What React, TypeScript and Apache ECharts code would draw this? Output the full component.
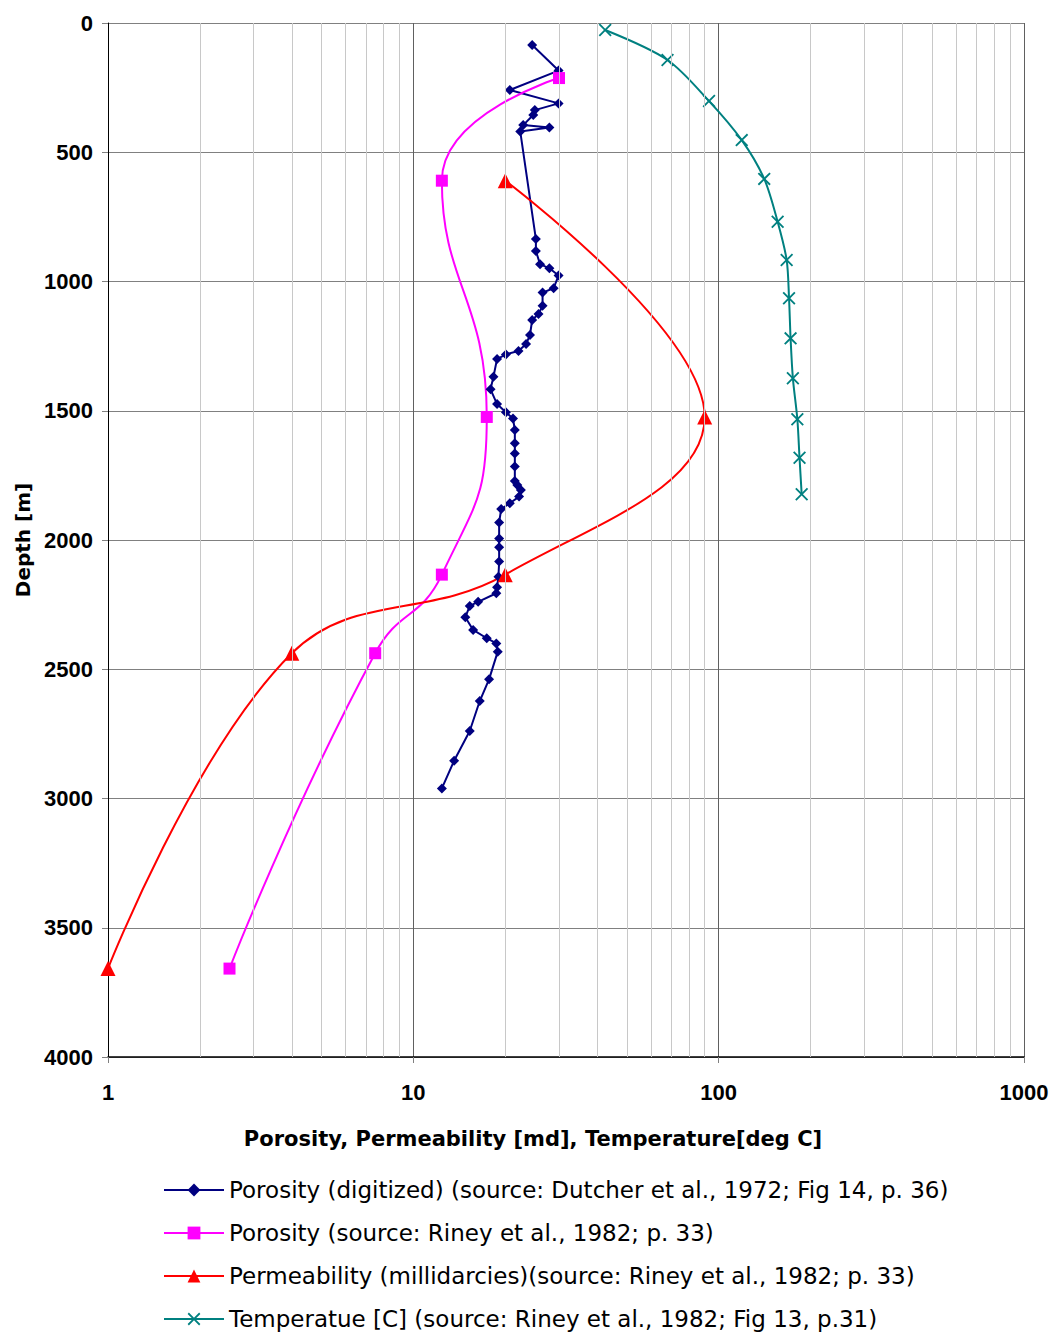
import React, { useEffect, useRef } from "react";
import * as echarts from "echarts";

// [value, depth(m)]
const porosityDigitized: number[][] = [
  [24.5, 85], [29.9, 184], [20.7, 259], [29.9, 311], [25.0, 337], [24.7, 356], [22.9, 395], [27.9, 404], [22.4, 420],
  [25.2, 836], [25.2, 882], [26.0, 933], [27.9, 949], [29.9, 977], [28.8, 1026], [26.5, 1043], [26.5, 1094],
  [25.7, 1126], [24.5, 1149], [24.1, 1207], [23.4, 1242], [22.1, 1269], [20.1, 1282], [18.8, 1300], [18.3, 1368],
  [17.9, 1417], [18.8, 1474], [20.1, 1506], [21.2, 1530], [21.5, 1574], [21.5, 1626], [21.5, 1665], [21.5, 1716],
  [21.5, 1772], [21.9, 1787], [22.5, 1807], [22.2, 1832], [20.7, 1858], [19.4, 1880], [19.1, 1932], [19.1, 1994],
  [19.1, 2028], [19.1, 2083], [19.0, 2142], [18.8, 2183], [18.7, 2206], [16.3, 2239], [15.3, 2255], [14.8, 2299],
  [15.7, 2348], [17.4, 2380], [18.7, 2400], [18.9, 2432], [17.7, 2539], [16.5, 2623], [15.3, 2739], [13.6, 2854],
  [12.4, 2961],
];
const porosityRiney: number[][] = [[30, 213], [12.4, 610], [17.4, 1524], [12.4, 2134], [7.5, 2438], [2.5, 3658]];
const permeability: number[][] = [[20, 610], [90, 1524], [20, 2134], [4, 2438], [1, 3658]];
const temperature: number[][] = [
  [42.5, 27], [68, 143], [93, 302], [119, 453], [141, 603], [156, 769], [167, 917], [170, 1065], [172, 1220],
  [175, 1374], [181, 1533], [184, 1682], [187, 1823],
];
const minorGridValues: number[] = [2, 3, 4, 5, 6, 7, 8, 9, 20, 30, 40, 50, 60, 70, 80, 90, 200, 300, 400, 500, 600, 700, 800, 900];
const seriesNames: string[] = [
  "Porosity (digitized) (source: Dutcher et al., 1972; Fig 14, p. 36)",
  "Porosity (source: Riney et al., 1982; p. 33)",
  "Permeability (millidarcies)(source: Riney et al., 1982; p. 33)",
  "Temperatue [C] (source: Riney et al., 1982; Fig 13, p.31)",
];
const xAxisTitle = "Porosity, Permeability [md], Temperature[deg C]";
const yAxisTitle = "Depth [m]";

const SANS = "'Liberation Sans', Arial, sans-serif";
const WIDE = "'DejaVu Sans', sans-serif";
const X_SYMBOL = "path://M0,1 L1,0 L5,4 L9,0 L10,1 L6,5 L10,9 L9,10 L5,6 L1,10 L0,9 L4,5 Z";

export default function App() {
  const ref = useRef<HTMLDivElement>(null);
  useEffect(() => {
    if (!ref.current) return;
    const chart = echarts.init(ref.current, undefined, { renderer: "svg" });
    chart.setOption({
      animation: false,
      backgroundColor: "#ffffff",
      grid: { left: 108, right: 29, top: 23, bottom: 279 },
      xAxis: {
        type: "log",
        logBase: 10,
        min: 1,
        max: 1000,
        axisLine: { onZero: false, lineStyle: { color: "#000000", width: 1.5 } },
        axisTick: { show: true, length: 6, lineStyle: { color: "#808080" } },
        axisLabel: {
          margin: 24,
          fontFamily: SANS,
          fontWeight: "bold",
          fontSize: 22,
          color: "#000000",
          formatter: (v: number) => String(Math.round(v)),
        },
        splitLine: { show: true, lineStyle: { color: "#606060", width: 1 } },
      },
      yAxis: {
        type: "value",
        inverse: true,
        min: 0,
        max: 4000,
        interval: 500,
        name: yAxisTitle,
        nameLocation: "middle",
        nameGap: 75,
        nameRotate: 90,
        nameTextStyle: { fontFamily: WIDE, fontWeight: "bold", fontSize: 20, color: "#000000" },
        axisLine: { onZero: false, lineStyle: { color: "#000000", width: 1 } },
        axisTick: { show: true, length: 6, lineStyle: { color: "#808080" } },
        axisLabel: {
          margin: 15,
          fontFamily: SANS,
          fontWeight: "bold",
          fontSize: 22,
          color: "#000000",
          formatter: (v: number) => String(v),
        },
        splitLine: { show: true, lineStyle: { color: "#808080", width: 1 } },
      },
      legend: {
        orient: "vertical",
        left: 163,
        top: 1178,
        padding: 0,
        itemWidth: 60,
        itemHeight: 16,
        itemGap: 19,
        data: seriesNames,
        textStyle: { fontFamily: WIDE, fontSize: 23, color: "#000000", lineHeight: 24 },
      },
      graphic: [
        {
          type: "text",
          x: 533,
          y: 1139,
          style: {
            text: xAxisTitle,
            textAlign: "center",
            textVerticalAlign: "middle",
            font: `bold 21px ${WIDE}`,
            fill: "#000000",
          },
        },
      ],
      series: [
        {
          name: "minor-grid",
          type: "line",
          data: [],
          z: 1,
          silent: true,
          markLine: {
            silent: true,
            symbol: ["none", "none"],
            label: { show: false },
            lineStyle: { color: "#c8c8c8", type: "solid", width: 1 },
            emphasis: { disabled: true },
            data: minorGridValues.map((v) => ({ xAxis: v })),
          },
        },
        {
          name: seriesNames[0],
          type: "line",
          data: porosityDigitized,
          symbol: "diamond",
          symbolSize: 10,
          lineStyle: { color: "#000080", width: 2 },
          itemStyle: { color: "#000080" },
          z: 3,
        },
        {
          name: seriesNames[1],
          type: "line",
          data: porosityRiney,
          smooth: true,
          symbol: "rect",
          symbolSize: 12,
          lineStyle: { color: "#ff00ff", width: 2 },
          itemStyle: { color: "#ff00ff" },
          z: 3,
        },
        {
          name: seriesNames[2],
          type: "line",
          data: permeability,
          smooth: 0.4,
          clip: false,
          symbol: "triangle",
          symbolSize: 15,
          lineStyle: { color: "#ff0000", width: 2 },
          itemStyle: { color: "#ff0000" },
          z: 3,
        },
        {
          name: seriesNames[3],
          type: "line",
          data: temperature,
          smooth: 0.3,
          symbol: X_SYMBOL,
          symbolSize: 13,
          lineStyle: { color: "#008080", width: 2 },
          itemStyle: { color: "#008080" },
          z: 3,
        },
      ],
    });
    return () => chart.dispose();
  }, []);
  return <div ref={ref} style={{ position: "absolute", left: 0, top: 0, width: 1053, height: 1336 }} />;
}
